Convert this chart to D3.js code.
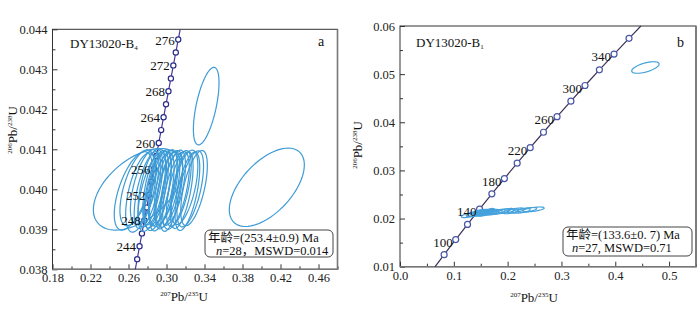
<!DOCTYPE html>
<html>
<head>
<meta charset="utf-8">
<script src="https://cdn.jsdelivr.net/npm/d3@7"></script>
<style>
  body { margin: 0; background: #fff; }
  svg { font-family: "Liberation Serif", "Times New Roman", "Noto Sans CJK SC", serif; }
  .frame { fill: none; stroke: #333; stroke-width: 1; }
  .axis path { display: none; }
  .axis line { stroke: #333; }
  .axis text { font-size: 12.5px; fill: #222; font-family: "Liberation Serif", serif; }
</style>
</head>
<body>
<svg width="700" height="318"></svg>
<script>
// ---- panel a : DY13020-B4 ----
const leftXTicks = [0.18, 0.22, 0.26, 0.30, 0.34, 0.38, 0.42, 0.46];
const leftXMinor = [0.20, 0.24, 0.28, 0.32, 0.36, 0.40, 0.44, 0.48];
const leftYTicks = [0.038, 0.039, 0.040, 0.041, 0.042, 0.043, 0.044];
const leftYMinor = [0.0385, 0.0395, 0.0405, 0.0415, 0.0425, 0.0435];

// concordia curve (207Pb/235U, 206Pb/238U) with age markers every 2 Ma
const leftAges = [242, 244, 246, 248, 250, 252, 254, 256, 258, 260, 262, 264, 266, 268, 270, 272, 274, 276];
const leftConcX = [0.26913, 0.27163, 0.27414, 0.27665, 0.27917, 0.28169, 0.28422, 0.28675, 0.28929,
                   0.29183, 0.29438, 0.29693, 0.29949, 0.30205, 0.30462, 0.30719, 0.30977, 0.31235];
const leftConcY = [0.038254, 0.038576, 0.038898, 0.039221, 0.039543, 0.039866, 0.040188, 0.040511, 0.040834,
                   0.041157, 0.041480, 0.041803, 0.042126, 0.042450, 0.042773, 0.043097, 0.043420, 0.043744];
const leftLabelAges = [244, 248, 252, 256, 260, 264, 268, 272, 276];
const leftCurveEnds = [[0.26713, 0.038], [0.31441, 0.044]];

// error ellipses: centre, half widths and correlation
const leftCx = [0.270, 0.3418, 0.4056,
  0.265, 0.269, 0.273, 0.277, 0.280, 0.283, 0.285, 0.287, 0.289, 0.291, 0.293, 0.295, 0.297,
  0.299, 0.301, 0.303, 0.305, 0.307, 0.310, 0.313, 0.316, 0.319, 0.322, 0.325, 0.329];
const leftCy = [0.04000, 0.04208, 0.04005,
  0.03996, 0.04004, 0.03992, 0.04006, 0.03998, 0.04003, 0.03993, 0.04005, 0.04000, 0.03996, 0.04004, 0.03994, 0.04002,
  0.04006, 0.03998, 0.04001, 0.03993, 0.04004, 0.03997, 0.04002, 0.03998, 0.04005, 0.03995, 0.04001, 0.04003];
const leftSx = [0.047, 0.0135, 0.0395,
  0.020, 0.018, 0.016, 0.015, 0.014, 0.013, 0.015, 0.012, 0.013, 0.014, 0.012, 0.013, 0.015,
  0.012, 0.013, 0.014, 0.012, 0.013, 0.014, 0.013, 0.012, 0.014, 0.013, 0.014, 0.014];
const leftSy = [0.00102, 0.00097, 0.00098,
  0.00098, 0.00095, 0.00099, 0.00093, 0.00096, 0.00097, 0.00098, 0.00094, 0.00097, 0.00099, 0.00095, 0.00098, 0.00095,
  0.00093, 0.00097, 0.00096, 0.00098, 0.00094, 0.00097, 0.00095, 0.00096, 0.00093, 0.00098, 0.00095, 0.00094];
const leftRho = [0.5, 0.6, 0.57,
  0.6, 0.6, 0.55, 0.6, 0.62, 0.58, 0.6, 0.6, 0.62, 0.58, 0.6, 0.6, 0.55,
  0.6, 0.62, 0.6, 0.58, 0.6, 0.6, 0.62, 0.6, 0.58, 0.6, 0.6, 0.6];

// ---- panel b : DY13020-B1 ----
const rightXTicks = [0.0, 0.1, 0.2, 0.3, 0.4, 0.5];
const rightXMinor = [0.05, 0.15, 0.25, 0.35, 0.45, 0.55];
const rightYTicks = [0.01, 0.02, 0.03, 0.04, 0.05, 0.06];
const rightYMinor = [0.015, 0.025, 0.035, 0.045, 0.055];

const rightAges = [80, 100, 120, 140, 160, 180, 200, 220, 240, 260, 280, 300, 320, 340, 360];
const rightConcX = [0.08198, 0.10350, 0.12545, 0.14784, 0.17067, 0.19396, 0.21771, 0.24193,
                    0.26664, 0.29183, 0.31753, 0.34374, 0.37047, 0.39773, 0.42553];
const rightConcY = [0.012488, 0.015633, 0.018789, 0.021955, 0.025131, 0.028316, 0.031511, 0.034717,
                    0.037932, 0.041157, 0.044392, 0.047637, 0.050893, 0.054158, 0.057434];
const rightLabelAges = [100, 140, 180, 220, 260, 300, 340];
const rightCurveEnds = [[0.06516, 0.01], [0.44760, 0.06]];

const rightCx = [0.456,
  0.128, 0.135, 0.140, 0.143, 0.146, 0.148, 0.150, 0.152, 0.154, 0.156, 0.158, 0.160, 0.162,
  0.164, 0.166, 0.168, 0.172, 0.176, 0.182, 0.190, 0.198, 0.206, 0.215, 0.225, 0.236, 0.248];
const rightCy = [0.05138,
  0.0207, 0.0209, 0.0210, 0.0212, 0.0211, 0.0213, 0.0210, 0.0212, 0.0214, 0.0211, 0.0213, 0.0212, 0.0214,
  0.0213, 0.0215, 0.0212, 0.0214, 0.0213, 0.0214, 0.0215, 0.0216, 0.0215, 0.0217, 0.0216, 0.0218, 0.0219];
const rightSx = [0.0255,
  0.014, 0.012, 0.010, 0.011, 0.010, 0.012, 0.011, 0.010, 0.012, 0.011, 0.010, 0.012, 0.011,
  0.012, 0.010, 0.013, 0.012, 0.014, 0.013, 0.014, 0.015, 0.014, 0.016, 0.017, 0.018, 0.020];
const rightSy = [0.0012,
  0.0005, 0.0005, 0.0006, 0.0005, 0.0005, 0.0006, 0.0005, 0.0005, 0.0005, 0.0006, 0.0005, 0.0005, 0.0005,
  0.0005, 0.0006, 0.0005, 0.0005, 0.0005, 0.0005, 0.0005, 0.0005, 0.0005, 0.0005, 0.0005, 0.0005, 0.0005];
const rightRho = [0.6,
  0.6, 0.6, 0.6, 0.6, 0.6, 0.6, 0.6, 0.6, 0.6, 0.6, 0.6, 0.6, 0.6,
  0.6, 0.6, 0.6, 0.6, 0.6, 0.6, 0.6, 0.6, 0.6, 0.6, 0.6, 0.6, 0.6];

const svg = d3.select("svg");

function drawPanel(p) {
  const x = d3.scaleLinear().domain(p.xDomain).range(p.xRange);
  const y = d3.scaleLinear().domain(p.yDomain).range(p.yRange);
  const g = svg.append("g");

  // axes (ticks point inward)
  g.append("g").attr("class", "axis")
    .attr("transform", `translate(0,${p.yRange[0]})`)
    .call(d3.axisBottom(x).tickValues(p.xTicks).tickSize(-5).tickSizeOuter(0)
      .tickPadding(4).tickFormat(d3.format(p.xFmt)));
  g.append("g").attr("class", "axis")
    .attr("transform", `translate(0,${p.yRange[0]})`)
    .call(d3.axisBottom(x).tickValues(p.xMinor).tickSize(-3).tickSizeOuter(0).tickFormat(""));
  g.append("g").attr("class", "axis")
    .attr("transform", `translate(${p.xRange[0]},0)`)
    .call(d3.axisLeft(y).tickValues(p.yTicks).tickSize(-5).tickSizeOuter(0)
      .tickPadding(5).tickFormat(d3.format(p.yFmt)));
  g.append("g").attr("class", "axis")
    .attr("transform", `translate(${p.xRange[0]},0)`)
    .call(d3.axisLeft(y).tickValues(p.yMinor).tickSize(-3).tickSizeOuter(0).tickFormat(""));

  // frame
  g.append("rect").attr("class", "frame")
    .attr("x", p.xRange[0]).attr("y", p.yRange[1])
    .attr("width", p.xRange[1] - p.xRange[0]).attr("height", p.yRange[0] - p.yRange[1]);
  g.append("path")
    .attr("d", `M${p.xRange[1]},${p.yRange[1]}V${p.yRange[0]}H${p.xRange[0]}`)
    .attr("fill", "none").attr("stroke", "#777").attr("stroke-width", 1.6);

  // concordia
  const pts = [p.curveEnds[0]].concat(p.ages.map((a, i) => [p.concX[i], p.concY[i]]), [p.curveEnds[1]]);
  g.append("path")
    .attr("d", d3.line().x(d => x(d[0])).y(d => y(d[1])).curve(d3.curveCatmullRom)(pts))
    .attr("fill", "none").attr("stroke", p.lineColor).attr("stroke-width", 1.2);
  g.selectAll(".marker").data(p.ages.map((a, i) => ({ a, cx: p.concX[i], cy: p.concY[i] })))
    .enter().append("circle")
    .attr("cx", d => x(d.cx)).attr("cy", d => y(d.cy)).attr("r", p.markerR)
    .attr("fill", "#fff").attr("stroke", p.markerColor).attr("stroke-width", 1.2);

  // error ellipses
  const ell = p.cx.map((c, i) => {
    const sx = p.sx[i], sy = p.sy[i], r = p.rho[i], k = Math.sqrt(1 - r * r);
    return d3.range(0, 73).map(j => {
      const t = j / 72 * 2 * Math.PI;
      return [c + sx * Math.cos(t), p.cy[i] + sy * (r * Math.cos(t) + k * Math.sin(t))];
    });
  });
  g.selectAll(".ell").data(ell).enter().append("path")
    .attr("d", d3.line().x(d => x(d[0])).y(d => y(d[1])))
    .attr("fill", "none").attr("stroke", p.ellColor).attr("stroke-width", 1.2);

  // age labels
  g.selectAll(".age").data(p.labelAges).enter().append("text")
    .attr("x", a => x(p.concX[p.ages.indexOf(a)]) - p.labelGap)
    .attr("y", a => y(p.concY[p.ages.indexOf(a)]) + p.labelDy)
    .attr("text-anchor", "end").attr("font-size", "13px").attr("fill", "#111")
    .text(a => a);

  // sample name + panel letter
  const name = g.append("text").attr("x", p.name[0]).attr("y", p.name[1])
    .attr("font-size", "13px").attr("fill", "#111");
  name.append("tspan").text(p.name[2]);
  name.append("tspan").attr("font-size", "7px").attr("dy", 2).text(p.name[3]);
  g.append("text").attr("x", p.letter[0]).attr("y", p.letter[1])
    .attr("font-size", "14px").attr("fill", "#111").text(p.letter[2]);

  // axis titles
  const xt = g.append("text").attr("x", p.xTitle[0]).attr("y", p.xTitle[1])
    .attr("text-anchor", "middle").attr("font-size", "13px").attr("fill", "#111");
  xt.append("tspan").attr("font-size", "7px").attr("dy", -5).text("207");
  xt.append("tspan").attr("dy", 5).text("Pb/");
  xt.append("tspan").attr("font-size", "7px").attr("dy", -5).text("235");
  xt.append("tspan").attr("dy", 5).text("U");
  const yt = g.append("text")
    .attr("transform", `translate(${p.yTitle[0]},${p.yTitle[1]}) rotate(-90)`)
    .attr("text-anchor", "middle").attr("font-size", "13px").attr("fill", "#111");
  yt.append("tspan").attr("font-size", "7px").attr("dy", -5).text("206");
  yt.append("tspan").attr("dy", 5).text("Pb/");
  yt.append("tspan").attr("font-size", "7px").attr("dy", -5).text("238");
  yt.append("tspan").attr("dy", 5).text("U");

  // result box
  const b = p.box;
  g.append("rect").attr("x", b.x).attr("y", b.y).attr("width", b.w).attr("height", b.h)
    .attr("rx", 5).attr("fill", "#fff").attr("stroke", "#444").attr("stroke-width", 1);
  g.append("text").attr("x", b.x + 3).attr("y", b.y + 12).attr("font-size", "12.5px").attr("fill", "#111")
    .text(b.line1);
  const l2 = g.append("text").attr("x", b.x + b.indent).attr("y", b.y + 24.5)
    .attr("font-size", "12.5px").attr("fill", "#111");
  l2.append("tspan").attr("font-style", "italic").text("n");
  l2.append("tspan").text(b.line2);
}

drawPanel({
  xDomain: [0.18, 0.48], xRange: [52.5, 337.5],
  yDomain: [0.038, 0.044], yRange: [269.3, 29.3],
  xTicks: leftXTicks, xMinor: leftXMinor, yTicks: leftYTicks, yMinor: leftYMinor,
  xFmt: ".2f", yFmt: ".3f",
  ages: leftAges, concX: leftConcX, concY: leftConcY, curveEnds: leftCurveEnds,
  labelAges: leftLabelAges, labelGap: 3.5, labelDy: 5,
  lineColor: "#4a3a9c", markerColor: "#2c2a8a", markerR: 2.6,
  cx: leftCx, cy: leftCy, sx: leftSx, sy: leftSy, rho: leftRho, ellColor: "#3d9bd6",
  name: [70, 48, "DY13020-B", "4"], letter: [318, 46, "a"],
  xTitle: [184, 301], yTitle: [17, 130],
  box: { x: 205, y: 230, w: 128, h: 27, indent: 11,
         line1: "年龄=(253.4±0.9) Ma", line2: "=28，MSWD=0.014" }
});

drawPanel({
  xDomain: [0, 0.55], xRange: [400, 696],
  yDomain: [0.01, 0.06], yRange: [266.7, 26],
  xTicks: rightXTicks, xMinor: rightXMinor, yTicks: rightYTicks, yMinor: rightYMinor,
  xFmt: ".1f", yFmt: ".2f",
  ages: rightAges, concX: rightConcX, concY: rightConcY, curveEnds: rightCurveEnds,
  labelAges: rightLabelAges, labelGap: 3, labelDy: 7,
  lineColor: "#3c2f55", markerColor: "#4a56a6", markerR: 3,
  cx: rightCx, cy: rightCy, sx: rightSx, sy: rightSy, rho: rightRho, ellColor: "#45a2dc",
  name: [416, 47, "DY13020-B", "1"], letter: [677, 47, "b"],
  xTitle: [534, 302], yTitle: [362, 145],
  box: { x: 563, y: 227, w: 129, h: 29, indent: 9,
         line1: "年龄=(133.6±0. 7) Ma", line2: "=27, MSWD=0.71" }
});
</script>
</body>
</html>
